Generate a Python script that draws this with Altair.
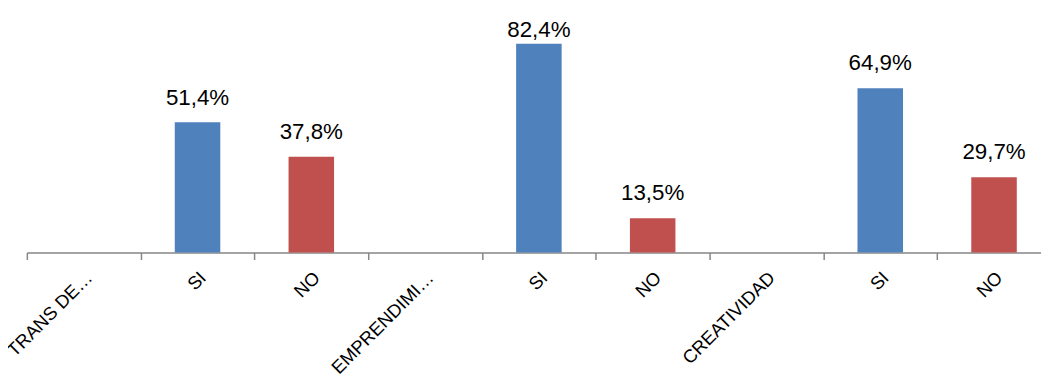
import json
import altair as alt
import pandas as pd

categories = ["TRANS DE…", "SI", "NO", "EMPRENDIMI…", "SI", "NO", "CREATIVIDAD", "SI", "NO"]
series = ["", "SI", "NO", "", "SI", "NO", "", "SI", "NO"]
values = [None, 51.4, 37.8, None, 82.4, 13.5, None, 64.9, 29.7]

rows = []
for i, (c, s, v) in enumerate(zip(categories, series, values)):
    rows.append({
        "idx": i,
        "cat": c,
        "serie": s,
        "valor": v,
        "etiqueta": (f"{v:.1f}".replace(".", ",") + "%") if v is not None else "",
    })
df = pd.DataFrame(rows)
df_bars = df[df["valor"].notna()]

label_expr = json.dumps(categories, ensure_ascii=False) + "[datum.value]"

x_enc = alt.X(
    "idx:O",
    scale=alt.Scale(domain=list(range(len(categories))), range=[0, 1032], paddingInner=0, paddingOuter=0),
    axis=alt.Axis(
        title=None,
        labelExpr=label_expr,
        labelAngle=-45,
        labelAlign="right",
        labelBaseline="middle",
        labelFont="Liberation Sans",
        labelFontSize=18.5,
        labelColor="#000000",
        labelPadding=15,
        labelOffset=5,
        labelOverlap=False,
        labelBound=False,
        labelFlush=False,
        tickBand="extent",
        tickSize=7,
        tickColor="#868686",
        tickWidth=1.5,
        domainColor="#868686",
        domainWidth=1.5,
        grid=False,
    ),
)

y_scale = alt.Scale(domain=[0, 96], nice=False, zero=True)

y_enc = alt.Y("valor:Q", scale=y_scale, axis=None)

color_enc = alt.Color(
    "serie:N",
    scale=alt.Scale(domain=["SI", "NO"], range=["#4F81BD", "#C0504D"]),
    legend=None,
)

bars = alt.Chart(df_bars).mark_bar(width={"band": 0.4}).encode(
    x=x_enc, y=y_enc, color=color_enc
)

text = alt.Chart(df_bars).transform_calculate(
    pos_etiqueta="min(datum.valor + 7.05, 85.2)"
).mark_text(
    baseline="alphabetic", align="center",
    font="Liberation Sans", fontSize=22.5, color="#000000",
).encode(
    x=x_enc,
    y=alt.Y("pos_etiqueta:Q", scale=y_scale, axis=None),
    text="etiqueta:N",
)

chart = (
    alt.layer(bars, text)
    .properties(
        width=1022,
        height=245,
        background="#ffffff",
        autosize=alt.AutoSizeParams(type="none"),
        padding={"left": 19, "top": 0, "right": 0, "bottom": 122},
    )
    .configure_view(strokeWidth=0, stroke="transparent")
)

chart.save("out.html", embed_options={"renderer": "svg", "actions": False})
